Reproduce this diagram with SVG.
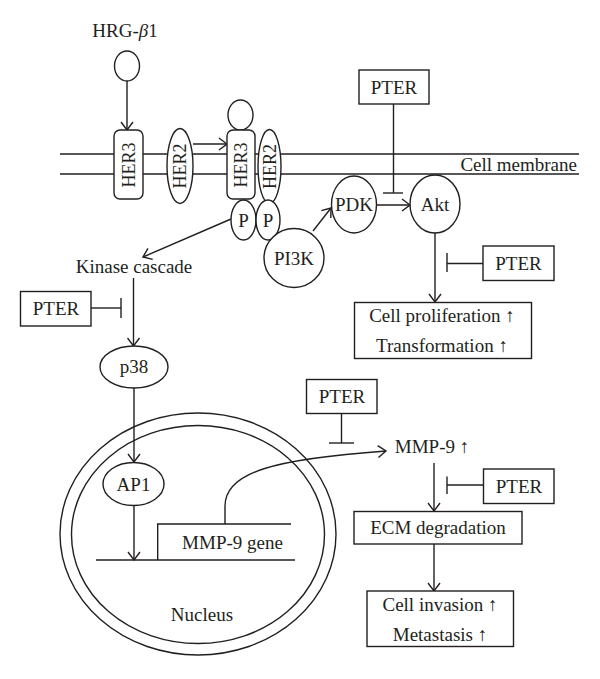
<svg xmlns="http://www.w3.org/2000/svg" width="600" height="679" viewBox="0 0 600 679">
<style>
.s{fill:#fff;stroke:#231f20;stroke-width:1.4}
.n{fill:none;stroke:#231f20;stroke-width:1.4}
.t{font-family:"Liberation Serif","Times New Roman",serif;font-size:19px;fill:#231f20;text-anchor:middle}
.r{font-size:18px}
.a{marker-end:url(#arr)}
</style>
<defs>
<marker id="arr" markerUnits="userSpaceOnUse" markerWidth="10" markerHeight="14" viewBox="0 0 10 14" refX="9" refY="7" orient="auto">
<path d="M1,1 L9,7 L1,13" fill="none" stroke="#231f20" stroke-width="1.4"/>
</marker>
</defs>
<rect width="600" height="679" fill="#fff"/>
<g id="membrane">
<line class="n" x1="60" y1="154" x2="579" y2="154"/>
<line class="n" x1="60" y1="174" x2="579" y2="174"/>
<text class="t" x="577" y="171" style="text-anchor:end">Cell membrane</text>
</g>
<g id="nucleus">
<ellipse class="n" cx="198" cy="534" rx="138" ry="121"/>
<ellipse class="n" cx="198" cy="534.5" rx="126.5" ry="109"/>
<text class="t" x="202" y="621">Nucleus</text>
</g>
<g id="connectors">
<line class="n a" x1="127" y1="81" x2="127" y2="130"/>
<line class="n a" x1="193" y1="144" x2="227" y2="144"/>
<line class="n a" x1="231" y1="219" x2="143" y2="257"/>
<line class="n a" x1="313" y1="231" x2="331" y2="208"/>
<line class="n a" x1="377" y1="205" x2="410" y2="205"/>
<line class="n" x1="393.5" y1="104" x2="393.5" y2="193"/>
<line class="n" x1="383" y1="193" x2="403" y2="193"/>
<line class="n a" x1="435" y1="233" x2="435" y2="302"/>
<line class="n" x1="483" y1="263.5" x2="447" y2="263.5"/>
<line class="n" x1="447" y1="253" x2="447" y2="272"/>
<line class="n a" x1="133.5" y1="278" x2="133.5" y2="346"/>
<line class="n" x1="91" y1="308" x2="121" y2="308"/>
<line class="n" x1="121" y1="298" x2="121" y2="318"/>
<line class="n a" x1="134" y1="388" x2="134" y2="462"/>
<line class="n a" x1="134" y1="506" x2="134" y2="560"/>
<path class="n a" d="M225,524 V506 C225,472 275,459 386,451"/>
<line class="n" x1="341.5" y1="413" x2="341.5" y2="443"/>
<line class="n" x1="329" y1="443" x2="354" y2="443"/>
<line class="n a" x1="434" y1="463" x2="434" y2="511"/>
<line class="n" x1="483" y1="485" x2="447" y2="485"/>
<line class="n" x1="447" y1="476.5" x2="447" y2="494"/>
<line class="n a" x1="434" y1="544" x2="434" y2="591"/>
</g>
<g id="hrg">
<text class="t" x="125" y="37">HRG-<tspan font-style="italic">β</tspan>1</text>
<ellipse class="s" cx="127" cy="66" rx="12.5" ry="15"/>
</g>
<g id="her3a">
<rect class="s" x="114" y="130" width="29" height="69" rx="6"/>
<text class="t r" transform="translate(128.5,165) rotate(-90)" y="6">HER3</text>
</g>
<g id="her2a">
<ellipse class="s" cx="180" cy="166" rx="13" ry="37.5"/>
<text class="t r" transform="translate(180,166) rotate(-90)" y="6">HER2</text>
</g>
<g id="her3b">
<ellipse class="s" cx="240.5" cy="115" rx="12.5" ry="15"/>
<rect class="s" x="227" y="130" width="28" height="69" rx="6"/>
<text class="t r" transform="translate(241,165) rotate(-90)" y="6">HER3</text>
</g>
<g id="her2b">
<ellipse class="s" cx="269.5" cy="166.5" rx="11.5" ry="37"/>
<text class="t r" transform="translate(269.5,166.5) rotate(-90)" y="6">HER2</text>
</g>
<g id="p1">
<ellipse class="s" cx="243.5" cy="220" rx="12.5" ry="20"/>
<text class="t" x="243.5" y="226.5">P</text>
</g>
<g id="p2">
<ellipse class="s" cx="268" cy="220" rx="12" ry="20"/>
<text class="t" x="268" y="226.5">P</text>
</g>
<g id="pi3k">
<ellipse class="s" cx="294" cy="258" rx="30" ry="29.5"/>
<text class="t" x="294" y="264.5">PI3K</text>
</g>
<g id="pdk">
<ellipse class="s" cx="354" cy="204.5" rx="22.5" ry="28.5"/>
<text class="t" x="354" y="211">PDK</text>
</g>
<g id="akt">
<ellipse class="s" cx="435" cy="204" rx="25" ry="29"/>
<text class="t" x="435" y="211">Akt</text>
</g>
<g id="pter1">
<rect class="s" x="359" y="70" width="70" height="34"/>
<text class="t" x="394" y="93.5">PTER</text>
</g>
<g id="pter2">
<rect class="s" x="483" y="246" width="71" height="34.5"/>
<text class="t" x="518.5" y="269.5">PTER</text>
</g>
<g id="prolif">
<rect class="s" x="354.5" y="302.5" width="177" height="56"/>
<text class="t" x="442" y="322">Cell proliferation ↑</text>
<text class="t" x="442" y="352">Transformation ↑</text>
</g>
<g id="kinase">
<text class="t" x="134" y="273">Kinase cascade</text>
</g>
<g id="pter3">
<rect class="s" x="20.5" y="291.5" width="70.5" height="34.5"/>
<text class="t" x="56" y="315">PTER</text>
</g>
<g id="p38">
<ellipse class="s" cx="134" cy="367" rx="34" ry="21"/>
<text class="t" x="134" y="373">p38</text>
</g>
<g id="ap1">
<ellipse class="s" cx="133.5" cy="484" rx="30.5" ry="21.5"/>
<text class="t" x="133.5" y="490.5">AP1</text>
</g>
<g id="gene">
<line class="n" x1="96" y1="560" x2="295" y2="560"/>
<polyline class="n" points="157.7,560 157.7,524 291,524"/>
<text class="t" x="232.5" y="548.5">MMP-9 gene</text>
</g>
<g id="pter4">
<rect class="s" x="306.5" y="379.5" width="70.5" height="34"/>
<text class="t" x="342" y="403">PTER</text>
</g>
<g id="mmp9">
<text class="t" x="432" y="453">MMP-9 ↑</text>
</g>
<g id="pter5">
<rect class="s" x="483.5" y="469" width="70.5" height="34.5"/>
<text class="t" x="519" y="492.5">PTER</text>
</g>
<g id="ecm">
<rect class="s" x="354" y="511.5" width="168" height="32.5"/>
<text class="t" x="438" y="534">ECM degradation</text>
</g>
<g id="invasion">
<rect class="s" x="367" y="591" width="146.5" height="55.5"/>
<text class="t" x="440" y="611">Cell invasion ↑</text>
<text class="t" x="440" y="641">Metastasis ↑</text>
</g>
</svg>
